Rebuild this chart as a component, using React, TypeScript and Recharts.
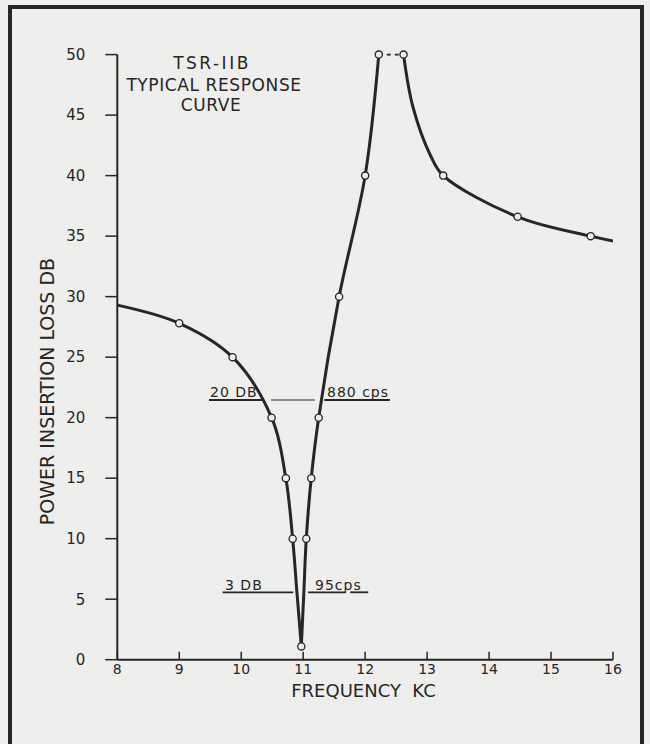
import React from "react";
import { LineChart, Line, XAxis, YAxis, ReferenceLine } from "recharts";

// frequency (kc) and insertion loss (db)
// falling side of the notch
const FALL_KC = [8.0, 9.0, 9.86, 10.49, 10.72, 10.83, 10.9, 10.97];
const FALL_DB = [29.3, 27.8, 25.0, 20.0, 15.0, 10.0, 5.5, 1.1];
const FALL_MARK = [0, 1, 1, 1, 1, 1, 0, 1];

// rising side up to the 50 db peak
const RISE_KC = [10.97, 11.01, 11.05, 11.13, 11.25, 11.58, 12.0, 12.22];
const RISE_DB = [1.1, 5.5, 10.0, 15.0, 20.0, 30.0, 40.0, 50.0];
const RISE_MARK = [0, 0, 1, 1, 1, 1, 1, 1];

// upper skirt
const TAIL_KC = [12.62, 12.77, 13.06, 13.26, 14.46, 15.64, 16.0];
const TAIL_DB = [50.0, 45.7, 41.6, 40.0, 36.6, 35.0, 34.6];
const TAIL_MARK = [1, 0, 0, 1, 1, 1, 0];

const GAP_KC = [12.22, 12.62];
const GAP_DB = [50, 50];

const X_TICKS = [8, 9, 10, 11, 12, 13, 14, 15, 16];
const Y_TICKS = [0, 5, 10, 15, 20, 25, 30, 35, 40, 45, 50];

// bandwidth markers: [from, to] kc at a level in db
const BW20_LEVEL = 21.46;
const BW20_SEGS = [
  [9.48, 10.34],
  [10.48, 11.19],
  [11.34, 12.4],
];
const BW3_LEVEL = 5.57;
const BW3_SEGS = [
  [9.7, 10.84],
  [11.08, 11.68],
  [11.76, 12.05],
];

const INK = "#262626";
const PAPER = "#eeeeec";
const FONT = "'DejaVu Sans', sans-serif";

const toRows = (xs: number[], ys: number[], marks?: number[]) =>
  xs.map((x, i) => ({ x, y: ys[i], m: marks ? marks[i] === 1 : false }));

const fallData = toRows(FALL_KC, FALL_DB, FALL_MARK);
const riseData = toRows(RISE_KC, RISE_DB, RISE_MARK);
const tailData = toRows(TAIL_KC, TAIL_DB, TAIL_MARK);
const gapData = toRows(GAP_KC, GAP_DB);

// centripetal catmull-rom, handed to recharts as a d3-style curve factory
const catmullRom = (context: any) => {
  let pts: number[][] = [];
  return {
    areaStart() {},
    areaEnd() {},
    lineStart() {
      pts = [];
    },
    point(x: number, y: number) {
      pts.push([+x, +y]);
    },
    lineEnd() {
      if (!pts.length) return;
      context.moveTo(pts[0][0], pts[0][1]);
      for (let i = 0; i < pts.length - 1; i++) {
        const p0 = pts[i - 1] || pts[i];
        const p1 = pts[i];
        const p2 = pts[i + 1];
        const p3 = pts[i + 2] || p2;
        const d01 = Math.sqrt(Math.hypot(p1[0] - p0[0], p1[1] - p0[1]));
        const d12 = Math.sqrt(Math.hypot(p2[0] - p1[0], p2[1] - p1[1]));
        const d23 = Math.sqrt(Math.hypot(p3[0] - p2[0], p3[1] - p2[1]));
        let c1 = [p1[0], p1[1]];
        let c2 = [p2[0], p2[1]];
        if (d01 > 1e-6) {
          const a = 2 * d01 * d01 + 3 * d01 * d12 + d12 * d12;
          const n = 3 * d01 * (d01 + d12);
          c1 = [0, 1].map((k) => (p1[k] * a - p0[k] * d12 * d12 + p2[k] * d01 * d01) / n);
        }
        if (d23 > 1e-6) {
          const b = 2 * d23 * d23 + 3 * d23 * d12 + d12 * d12;
          const m = 3 * d23 * (d23 + d12);
          c2 = [0, 1].map((k) => (p2[k] * b + p1[k] * d23 * d23 - p3[k] * d12 * d12) / m);
        }
        context.bezierCurveTo(c1[0], c1[1], c2[0], c2[1], p2[0], p2[1]);
      }
    },
  };
};

const renderDot = (props: any) => {
  const { cx, cy, payload, index } = props;
  if (!payload.m) return <g key={`d-${index}`} />;
  return (
    <circle
      key={`d-${index}`}
      cx={cx}
      cy={cy}
      r={3.6}
      fill={PAPER}
      stroke={INK}
      strokeWidth={1.3}
    />
  );
};

const curve = (data: any[], key: string) => (
  <Line
    key={key}
    data={data}
    dataKey="y"
    type={catmullRom as any}
    stroke={INK}
    strokeWidth={3}
    dot={renderDot}
    activeDot={false}
    isAnimationActive={false}
  />
);

export default function App() {
  return (
    <div style={{ position: "absolute", left: 0, top: 0, width: 650, height: 744, background: PAPER }}>
      <div
        style={{
          position: "absolute",
          left: 8,
          top: 5,
          width: 636,
          height: 739,
          boxSizing: "border-box",
          borderTop: `4px solid ${INK}`,
          borderLeft: `4px solid ${INK}`,
          borderRight: `4px solid ${INK}`,
        }}
      />
      <div style={{ position: "absolute", left: 0, top: 0 }}>
        <LineChart width={650} height={744} margin={{ top: 54.6, right: 37, bottom: 0, left: 0 }}>
          <XAxis
            type="number"
            dataKey="x"
            domain={[8, 16]}
            ticks={X_TICKS}
            allowDataOverflow
            height={84.3}
            axisLine={{ stroke: INK, strokeWidth: 2 }}
            tickLine={{ stroke: INK, strokeWidth: 1.5 }}
            tickSize={-8}
            tickMargin={12}
            tick={{ fill: INK, fontSize: 14, fontFamily: FONT }}
          />
          <YAxis
            type="number"
            dataKey="y"
            domain={[0, 50]}
            ticks={Y_TICKS}
            width={117.3}
            axisLine={{ stroke: INK, strokeWidth: 2 }}
            tickLine={{ stroke: INK, strokeWidth: 1.5 }}
            tickSize={12}
            tickMargin={20}
            tick={{ fill: INK, fontSize: 15, fontFamily: FONT }}
          />
          {BW20_SEGS.map(([a, b], i) => (
            <ReferenceLine
              key={`bw20-${i}`}
              segment={[
                { x: a, y: BW20_LEVEL },
                { x: b, y: BW20_LEVEL },
              ]}
              stroke={INK}
              strokeWidth={i === 1 ? 1.2 : 1.8}
            />
          ))}
          {BW3_SEGS.map(([a, b], i) => (
            <ReferenceLine
              key={`bw3-${i}`}
              segment={[
                { x: a, y: BW3_LEVEL },
                { x: b, y: BW3_LEVEL },
              ]}
              stroke={INK}
              strokeWidth={1.8}
            />
          ))}
          <Line
            data={gapData}
            dataKey="y"
            type="linear"
            stroke={INK}
            strokeWidth={1.8}
            strokeDasharray="4 4"
            dot={false}
            activeDot={false}
            isAnimationActive={false}
          />
          {curve(fallData, "fall")}
          {curve(riseData, "rise")}
          {curve(tailData, "tail")}
        </LineChart>
      </div>
      <svg
        width={650}
        height={744}
        style={{ position: "absolute", left: 0, top: 0, pointerEvents: "none" }}
        fontFamily={FONT}
        fill={INK}
      >
        <text x={212} y={68.5} fontSize={17} textAnchor="middle" letterSpacing={2.5}>
          TSR-IIB
        </text>
        <text x={214} y={91} fontSize={17} textAnchor="middle" letterSpacing={0.6}>
          TYPICAL RESPONSE
        </text>
        <text x={211} y={111} fontSize={17} textAnchor="middle" letterSpacing={0.6}>
          CURVE
        </text>
        <text x={210} y={397} fontSize={14} letterSpacing={1}>
          20 DB
        </text>
        <text x={327} y={397} fontSize={14} letterSpacing={1}>
          880 cps
        </text>
        <text x={225} y={590} fontSize={14} letterSpacing={1}>
          3 DB
        </text>
        <text x={315} y={590} fontSize={14} letterSpacing={1}>
          95cps
        </text>
        <text
          x={0}
          y={0}
          fontSize={19}
          textAnchor="middle"
          transform="translate(53.5 391.5) rotate(-90)"
        >
          POWER INSERTION LOSS DB
        </text>
        <text x={363.5} y={697} fontSize={18} textAnchor="middle" xmlSpace="preserve">
          FREQUENCY  KC
        </text>
      </svg>
    </div>
  );
}
